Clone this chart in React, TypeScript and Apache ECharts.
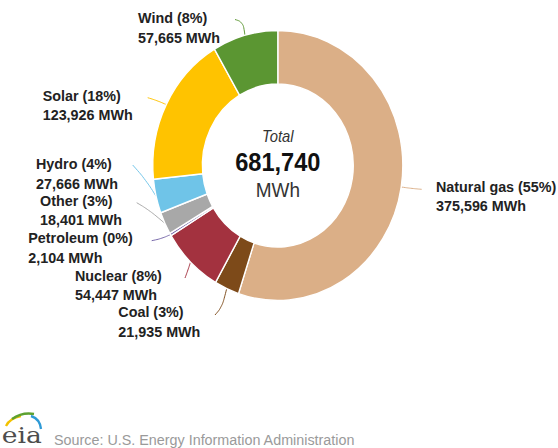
import React, { useEffect, useRef } from "react";
import * as echarts from "echarts";

// ---- data ----
const categories = ["Natural gas", "Coal", "Nuclear", "Petroleum", "Other", "Hydro", "Solar", "Wind"];
const generationMWh = [375596, 21935, 54447, 2104, 18401, 27666, 123926, 57665];
const sliceColors = ["#DBAF87", "#7D4A19", "#A3323F", "#7565A8", "#A8A8A8", "#6FC4E8", "#FFC300", "#5B9632"];
const unitLabel = "MWh";
const centerTitle = "Total";
const sourceText = "Source: U.S. Energy Information Administration";

// ---- layout (reference pixel space; x is divided by SX into chart space) ----
const SX = 0.926;
const LH = 19.5;
// [textLeft, line1CenterY, bendX, bendY, endX, endY]
const labelPlacement = [
  [436, 186, 412, 188.5, 421.7, 189.3],
  [118.3, 311.7, 222, 307, 215, 315],
  [75, 275, 188, 270, 185, 278],
  [28.3, 237.3, 162, 238.5, 151.7, 240.7],
  [40, 200, 149, 210, 136.7, 202.7],
  [36, 163.3, 146, 180, 132.7, 165],
  [42.7, 95, 157, 100.5, 147.7, 97.7],
  [138, 17.5, 243, 22, 235, 19.5],
];

export default function App() {
  const ref = useRef<HTMLDivElement>(null);
  useEffect(() => {
    if (!ref.current) return;
    const chart = echarts.init(ref.current, undefined, { renderer: "svg" });
    const total = generationMWh.reduce((a, b) => a + b, 0);
    const font = "'Liberation Sans', Arial, sans-serif";
    const X = (v: number) => v / SX;
    chart.setOption({
      animation: false,
      tooltip: { show: false },
      graphic: [
        { type: "text", x: 300, y: 136, style: { text: centerTitle, fontFamily: font, fontSize: 16, fontStyle: "italic", fill: "#333", align: "center", verticalAlign: "middle" } },
        { type: "text", x: 300, y: 162, style: { text: total.toLocaleString("en-US"), fontFamily: font, fontSize: 25.5, fontWeight: "bold", fill: "#111", align: "center", verticalAlign: "middle" } },
        { type: "text", x: 300, y: 189.5, style: { text: unitLabel, fontFamily: font, fontSize: 20.5, fill: "#333", align: "center", verticalAlign: "middle" } },
        { type: "text", x: X(58 - 4), y: 439, style: { text: sourceText, fontFamily: font, fontSize: 15.5, fill: "#9a9a9a", align: "left", verticalAlign: "middle" } },
        { type: "text", x: X(1.7), y: 435, scaleX: 1.25, style: { text: "eia", fontFamily: "'DejaVu Serif', serif", fontSize: 23, fill: "#4d4d4d", align: "left", verticalAlign: "middle" } },
        { type: "bezierCurve", shape: { x1: X(6), y1: 426, cpx1: X(10), cpy1: 418, x2: X(21), y2: 416 }, style: { stroke: "#F2C200", lineWidth: 2.5, fill: "none" } },
        { type: "bezierCurve", shape: { x1: X(12), y1: 419, cpx1: X(22), cpy1: 412, x2: X(34), y2: 414 }, style: { stroke: "#5DA130", lineWidth: 2.5, fill: "none" } },
        { type: "bezierCurve", shape: { x1: X(31), y1: 416, cpx1: X(40), cpy1: 419, x2: X(41), y2: 429 }, style: { stroke: "#2E9AD6", lineWidth: 2.5, fill: "none" } },
      ],
      series: [
        {
          type: "pie",
          center: [300, 165.5],
          radius: [81.5, 135],
          startAngle: 90,
          clockwise: true,
          avoidLabelOverlap: false,
          emphasis: { disabled: true },
          itemStyle: { borderColor: "#fff", borderWidth: 1.5 },
          label: {
            show: true,
            position: "outside",
            fontFamily: font,
            fontSize: 15.5,
            fontWeight: "bold",
            color: "#222",
            lineHeight: LH,
            formatter: (p: any) =>
              `${p.name} (${Math.round(p.percent)}%)\n${Number(p.value).toLocaleString("en-US")} ${unitLabel}`,
          },
          labelLine: { show: true, length: 10, length2: 10, smooth: 0.4, lineStyle: { width: 1 } },
          labelLayout: (p: any) => {
            const pl = labelPlacement[p.dataIndex];
            const res: any = { x: X(pl[0]), y: pl[1] - LH / 2, align: "left", verticalAlign: "top" };
            if (p.labelLinePoints && p.labelLinePoints[0]) {
              res.labelLinePoints = [p.labelLinePoints[0], [X(pl[2]), pl[3]], [X(pl[4]), pl[5]]];
            }
            return res;
          },
          data: categories.map((name, i) => ({
            name,
            value: generationMWh[i],
            itemStyle: { color: sliceColors[i] },
          })),
        },
      ],
    });
    return () => chart.dispose();
  }, []);
  return (
    <div style={{ position: "absolute", left: 0, top: 0, width: 558, height: 448, overflow: "hidden", background: "#fff" }}>
      <div
        ref={ref}
        style={{ width: 602, height: 448, transform: `scaleX(${SX})`, transformOrigin: "0 0" }}
      />
    </div>
  );
}
